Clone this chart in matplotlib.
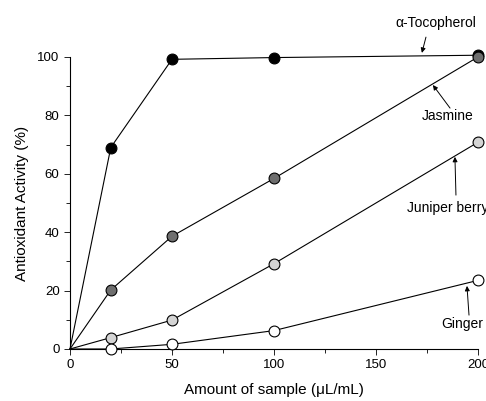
import matplotlib
matplotlib.use('Agg')
import matplotlib.pyplot as plt
from matplotlib.ticker import MultipleLocator

plt.rcParams['font.family'] = ['Liberation Sans', 'DejaVu Sans']

# amount of sample (uL/mL)
dose = [0, 20, 50, 100, 200]

# antioxidant activity (%)
tocopherol = [0, 69, 99.2, 99.8, 100.6]
jasmine = [0, 20.2, 38.6, 58.4, 100]
juniper = [0, 3.9, 9.9, 29.2, 70.8]
ginger = [0, 0, 1.6, 6.3, 23.5]

names = ['\u03b1-Tocopherol', 'Jasmine', 'Juniper berry', 'Ginger']
fills = ['black', '#6e6e6e', '#d4d4d4', 'white']

fig = plt.figure(figsize=(4.86, 4.01), dpi=100)
ax = fig.add_axes([0.144, 0.1297, 0.8395, 0.7282])

for vals, fc in zip([tocopherol, jasmine, juniper, ginger], fills):
    ax.plot(dose, vals, '-', color='black', lw=0.8, clip_on=False)
    # no marker at the origin
    ax.plot(dose[1:], vals[1:], 'o', ms=7.8, mfc=fc, mec='black', mew=0.8,
            clip_on=False, zorder=3)

ax.set_xlim(0, 200)
ax.set_ylim(0, 100)
ax.xaxis.set_major_locator(MultipleLocator(50))
ax.xaxis.set_minor_locator(MultipleLocator(25))
ax.yaxis.set_major_locator(MultipleLocator(20))
ax.yaxis.set_minor_locator(MultipleLocator(10))
ax.tick_params(which='both', direction='out', width=0.6, labelsize=9.5)
ax.tick_params(which='major', length=4)
ax.tick_params(which='minor', length=3)
for s in ['top', 'right']:
    ax.spines[s].set_visible(False)
for s in ['left', 'bottom']:
    ax.spines[s].set_linewidth(0.8)

ax.set_xlabel('Amount of sample (\u03bcL/mL)', fontsize=11, labelpad=8)
ax.set_ylabel('Antioxidant Activity (%)', fontsize=11, labelpad=6)

arrow = dict(arrowstyle='-|>', color='black', lw=0.7, mutation_scale=7,
             shrinkA=0, shrinkB=0)
# label text positions and arrows (tail -> head)
ax.text(179.4, 111.6, names[0], fontsize=10, ha='center', va='center', clip_on=False)
ax.annotate('', xy=(172.5, 101.4), xytext=(174.5, 106.8), arrowprops=arrow,
            annotation_clip=False)
ax.text(185.3, 79.8, names[1], fontsize=10, ha='center', va='center')
ax.annotate('', xy=(177.9, 90.4), xytext=(186.3, 82.5), arrowprops=arrow)
ax.text(165.2, 48.3, names[2], fontsize=10, ha='left', va='center', clip_on=False)
ax.annotate('', xy=(188.7, 65.8), xytext=(189.2, 52.7), arrowprops=arrow)
ax.text(181.9, 8.6, names[3], fontsize=10, ha='left', va='center')
ax.annotate('', xy=(194.6, 21.6), xytext=(195.6, 11.6), arrowprops=arrow)

fig.savefig('out.png', dpi=100)
